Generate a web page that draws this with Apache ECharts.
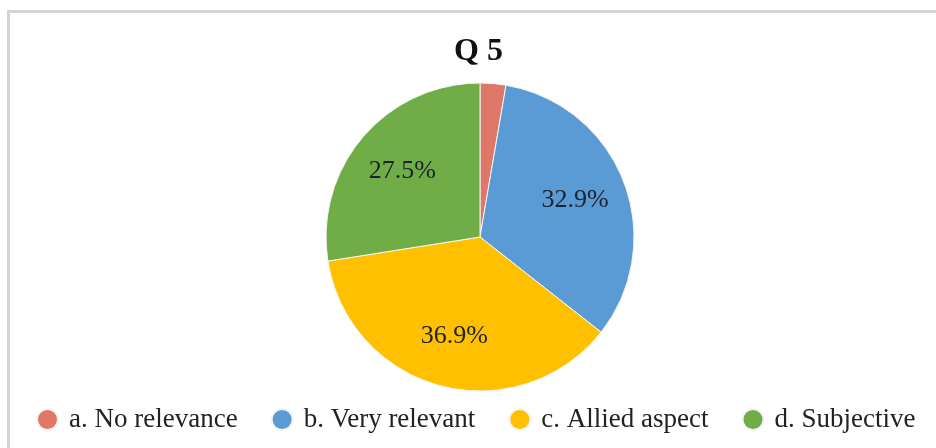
<!DOCTYPE html>
<html>
<head>
<meta charset="utf-8">
<script src="https://cdn.jsdelivr.net/npm/echarts@6/dist/echarts.min.js"></script>
<style>
html,body{margin:0;padding:0;background:#fff;}
#frame{position:absolute;left:7px;top:10px;width:960px;height:460px;border-left:3px solid #d4d4d4;border-top:3px solid #d4d4d4;pointer-events:none;}
#chart{position:absolute;left:0;top:0;width:936px;height:448px;}
</style>
</head>
<body>
<div id="frame"></div>
<div id="chart"></div>
<script>
const titleText = 'Q 5';
const categories = ['a. No relevance', 'b. Very relevant', 'c. Allied aspect', 'd. Subjective'];
const values = [2.7, 32.9, 36.9, 27.5];
const colors = ['#E0786A', '#5B9BD5', '#FFC000', '#70AD47'];

const font = '"Liberation Serif", "Times New Roman", serif';
const chart = echarts.init(document.getElementById('chart'), null, {renderer: 'canvas'});
const data = categories.map((c, i) => ({name: c, value: values[i], itemStyle: {color: colors[i]}}));

chart.setOption({
  animation: false,
  title: {
    text: titleText, left: 449, top: 31,
    textStyle: {fontFamily: font, fontWeight: 'bold', fontSize: 32, color: '#111'}
  },
  legend: {
    data: categories, bottom: 10, left: 31, icon: 'circle',
    itemWidth: 21, itemHeight: 21, itemGap: 33,
    textStyle: {fontFamily: font, fontSize: 27, color: '#222', padding: [0, 0, 0, 6]}
  },
  series: [
    {
      type: 'pie', center: [480, 237], radius: [0, 154], startAngle: 90, clockwise: true,
      data: data, label: {show: false}, labelLine: {show: false},
      itemStyle: {borderColor: '#f4f4f4', borderWidth: 1}, silent: true
    },
    {
      type: 'pie', center: [480, 237], radius: [44, 154], startAngle: 90, clockwise: true,
      data: categories.map((c, i) => ({name: c, value: values[i]})),
      itemStyle: {color: 'rgba(0,0,0,0)'}, silent: true, legendHoverLink: false,
      labelLine: {show: false},
      label: {
        show: true, position: 'inside', fontFamily: font, fontSize: 26, color: '#1c2230',
        formatter: p => p.value < 5 ? '' : p.value.toFixed(1) + '%'
      }
    }
  ]
});
</script>
</body>
</html>
